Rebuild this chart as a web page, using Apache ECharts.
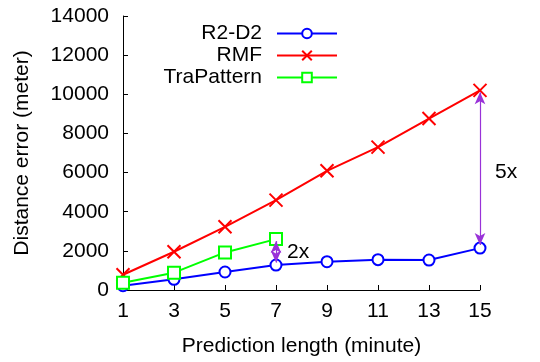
<!DOCTYPE html>
<html><head><meta charset="utf-8">
<script src="https://cdn.jsdelivr.net/npm/echarts@6/dist/echarts.min.js"></script>
<style>html,body{margin:0;padding:0;background:#fff}#c{width:540px;height:362px}</style>
</head><body><div id="c"></div>
<script>
const categories = ['1','3','5','7','9','11','13','15'];
const r2d2 = [220, 545, 920, 1275, 1445, 1550, 1530, 2140];
const rmf = [780, 1955, 3230, 4590, 6090, 7300, 8760, 10200];
const trapattern = [375, 885, 1920, 2600];
const yTicks = {min: 0, max: 14000, interval: 2000};
const arrow5x = {x: '15', from: 10100, to: 2300, label: '5x', labelY: 6000};
const arrow2x = {x: '7', from: 2500, to: 1400, label: '2x', labelY: 1950};

const font = 'Liberation Sans, Arial, sans-serif';
const fs = 21;
const purple = '#9932d8';
const chart = echarts.init(document.getElementById('c'), null, {renderer: 'canvas'});
chart.setOption({
  animation: false,
  backgroundColor: '#fff',
  textStyle: {fontFamily: font},
  grid: {left: 123, right: 60, top: 16, bottom: 72, containLabel: false},
  legend: {
    orient: 'vertical', left: 157, top: 18, align: 'right',
    itemWidth: 60, itemHeight: 12, itemGap: 1,
    textStyle: {fontFamily: font, fontSize: fs, color: '#000', width: 100, align: 'right', padding: [0, 10, 0, 0], lineHeight: 21},
    data: ['R2-D2', 'RMF', 'TraPattern']
  },
  xAxis: {
    type: 'category', data: categories, boundaryGap: false,
    name: 'Prediction length (minute)', nameLocation: 'middle', nameGap: 46,
    nameTextStyle: {fontFamily: font, fontSize: fs, color: '#000'},
    axisLine: {lineStyle: {color: '#000', width: 1}},
    axisTick: {inside: true, length: 5, alignWithLabel: true, lineStyle: {color: '#000'}},
    axisLabel: {fontFamily: font, fontSize: fs, color: '#000', margin: 11},
    splitLine: {show: false}
  },
  yAxis: {
    type: 'value', min: yTicks.min, max: yTicks.max, interval: yTicks.interval,
    name: 'Distance error (meter)', nameLocation: 'middle', nameGap: 90,
    nameTextStyle: {fontFamily: font, fontSize: fs, color: '#000'},
    axisLine: {show: true, lineStyle: {color: '#000', width: 1}},
    axisTick: {show: true, inside: true, length: 5, lineStyle: {color: '#000'}},
    axisLabel: {fontFamily: font, fontSize: fs, color: '#000', margin: 14, formatter: v => String(v)},
    splitLine: {show: false}
  },
  series: [
    {
      name: 'R2-D2', type: 'line', data: r2d2,
      symbol: 'emptyCircle', symbolSize: 11,
      lineStyle: {color: '#0000ff', width: 2},
      itemStyle: {color: '#0000ff', borderColor: '#0000ff', borderWidth: 2},
      z: 3,
      markLine: {
        silent: true, symbol: ['arrow', 'arrow'], symbolSize: [8, 12],
        lineStyle: {color: purple, width: 1.2, type: 'solid'},
        label: {show: false},
        data: [
          [{coord: [arrow5x.x, arrow5x.from]}, {coord: [arrow5x.x, arrow5x.to]}],
          [{coord: [arrow2x.x, arrow2x.from]}, {coord: [arrow2x.x, arrow2x.to]}]
        ]
      },
      markPoint: {
        silent: true, symbol: 'circle', symbolSize: 0,
        label: {show: true, fontFamily: font, fontSize: fs, color: '#000', position: 'right'},
        data: [
          {coord: [arrow5x.x, arrow5x.labelY], value: arrow5x.label, label: {formatter: arrow5x.label, offset: [10, 0]}},
          {coord: [arrow2x.x, arrow2x.labelY], value: arrow2x.label, label: {formatter: arrow2x.label, offset: [6, 0]}}
        ]
      }
    },
    {
      name: 'RMF', type: 'line', data: rmf,
      symbol: 'path://M0,0L10,10M10,0L0,10', symbolSize: 13,
      lineStyle: {color: '#ff0000', width: 2},
      itemStyle: {color: 'rgba(0,0,0,0)', borderColor: '#ff0000', borderWidth: 2}
    },
    {
      name: 'TraPattern', type: 'line', data: trapattern,
      symbol: 'emptyRect', symbolSize: 12,
      lineStyle: {color: '#00ff00', width: 2},
      itemStyle: {color: '#00ff00', borderColor: '#00ff00', borderWidth: 2}
    }
  ]
});
</script></body></html>
